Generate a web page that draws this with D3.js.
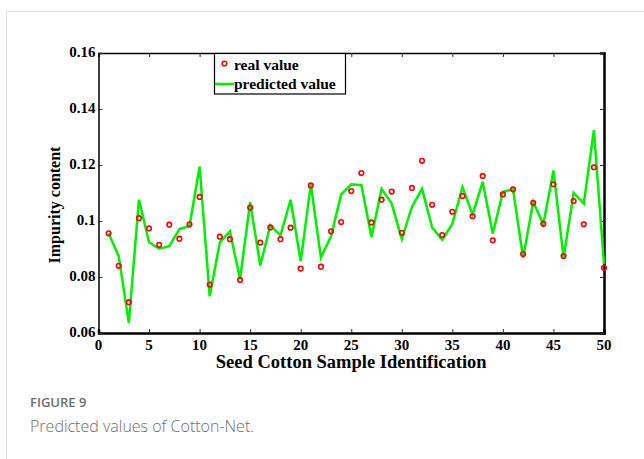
<!DOCTYPE html>
<html>
<head>
<meta charset="utf-8">
<script src="https://cdn.jsdelivr.net/npm/d3@7"></script>
<style>
  body { margin: 0; background: #fff; }
  .serif { font-family: "Liberation Serif", "Times New Roman", serif; font-weight: bold; }
  .caption { font-family: "Open Sans", sans-serif; fill: #6e6e6e; }
</style>
</head>
<body>
<svg id="chart" width="644" height="459"></svg>
<script>
// sample ids 1..50
const samples = d3.range(1, 51);

const realValues = [
  0.0956, 0.0840, 0.0710, 0.1010, 0.0974, 0.0915, 0.0987, 0.0937, 0.0988, 0.1086,
  0.0773, 0.0944, 0.0935, 0.0789, 0.1048, 0.0923, 0.0977, 0.0935, 0.0976, 0.0830,
  0.1127, 0.0837, 0.0963, 0.0996, 0.1107, 0.1171, 0.0995, 0.1076, 0.1105, 0.0958,
  0.1118, 0.1215, 0.1058, 0.0950, 0.1033, 0.1089, 0.1017, 0.1161, 0.0931, 0.1095,
  0.1113, 0.0882, 0.1065, 0.0990, 0.1131, 0.0875, 0.1071, 0.0988, 0.1192, 0.0833
];

const predictedValues = [
  0.0956, 0.0874, 0.0636, 0.1076, 0.0924, 0.0901, 0.0910, 0.0971, 0.0982, 0.1194,
  0.0731, 0.0924, 0.0963, 0.0792, 0.1067, 0.0841, 0.0985, 0.0949, 0.1076, 0.0856,
  0.1131, 0.0869, 0.0945, 0.1095, 0.1131, 0.1128, 0.0943, 0.1115, 0.1062, 0.0935,
  0.1050, 0.1115, 0.0977, 0.0933, 0.0990, 0.1121, 0.1023, 0.1140, 0.0955, 0.1104,
  0.1113, 0.0869, 0.1068, 0.0988, 0.1180, 0.0869, 0.1100, 0.1062, 0.1325, 0.0847
];

const xTicks = [0, 5, 10, 15, 20, 25, 30, 35, 40, 45, 50];
const yTicks = [0.06, 0.08, 0.1, 0.12, 0.14, 0.16];
const yTickLabels = ["0.06", "0.08", "0.1", "0.12", "0.14", "0.16"];

const svg = d3.select("#chart");

// card outline
svg.append("path")
  .attr("d", "M6.5,459 V11.5 H644")
  .attr("fill", "none")
  .attr("stroke", "#dcdcdc")
  .attr("stroke-width", 1);

const margin = { top: 53, left: 98.5 };
const width = 604 - margin.left;
const height = 333 - margin.top;

const x = d3.scaleLinear().domain([0, 50]).range([margin.left, margin.left + width]);
const y = d3.scaleLinear().domain([0.06, 0.16]).range([margin.top + height, margin.top]);

// axes with inward ticks
const tickLen = 4;
const bottomAxis = svg.append("g")
  .attr("transform", `translate(0, ${y(0.06)})`)
  .call(d3.axisTop(x).tickValues(xTicks).tickSize(tickLen).tickFormat(""));
const topAxis = svg.append("g")
  .attr("transform", `translate(0, ${y(0.16)})`)
  .call(d3.axisBottom(x).tickValues(xTicks).tickSize(tickLen).tickFormat(""));
const leftAxis = svg.append("g")
  .attr("transform", `translate(${x(0)}, 0)`)
  .call(d3.axisRight(y).tickValues(yTicks).tickSize(tickLen).tickFormat(""));
const rightAxis = svg.append("g")
  .attr("transform", `translate(${x(50)}, 0)`)
  .call(d3.axisLeft(y).tickValues(yTicks).tickSize(tickLen).tickFormat(""));

[bottomAxis, topAxis, leftAxis, rightAxis].forEach((g) => {
  g.select(".domain").attr("stroke", "#000").attr("stroke-width", 1.5);
  g.selectAll(".tick line").attr("stroke", "#333").attr("stroke-width", 1);
});
bottomAxis.select(".domain").attr("stroke-width", 2.5);
rightAxis.select(".domain").attr("stroke-width", 2.5);

// tick labels
svg.append("g").selectAll("text")
  .data(xTicks)
  .join("text")
  .attr("class", "serif")
  .attr("x", (d) => x(d))
  .attr("y", y(0.06) + 17)
  .attr("text-anchor", "middle")
  .attr("font-size", 15)
  .text((d) => d);

svg.append("g").selectAll("text")
  .data(yTicks)
  .join("text")
  .attr("class", "serif")
  .attr("x", x(0) - 3)
  .attr("y", (d) => y(d) + 4)
  .attr("text-anchor", "end")
  .attr("font-size", 15)
  .text((d, i) => yTickLabels[i]);

// axis titles
svg.append("text")
  .attr("class", "serif")
  .attr("x", (x(0) + x(50)) / 2)
  .attr("y", 368)
  .attr("text-anchor", "middle")
  .attr("font-size", 18.5)
  .text("Seed Cotton Sample Identification");

svg.append("text")
  .attr("class", "serif")
  .attr("transform", "translate(60, 205) rotate(-90)")
  .attr("text-anchor", "middle")
  .attr("font-size", 16)
  .text("Impurity content");

// predicted line
const line = d3.line()
  .x((d, i) => x(samples[i]))
  .y((d) => y(d));

svg.append("path")
  .datum(predictedValues)
  .attr("fill", "none")
  .attr("stroke", "#00ee00")
  .attr("stroke-width", 2.5)
  .attr("d", line);

// real value markers
svg.append("g").selectAll("circle")
  .data(realValues)
  .join("circle")
  .attr("cx", (d, i) => x(samples[i]))
  .attr("cy", (d) => y(d))
  .attr("r", 2.3)
  .attr("fill", "none")
  .attr("stroke", "#ff0000")
  .attr("stroke-width", 1.6);

// legend
const legend = svg.append("g");
legend.append("rect")
  .attr("x", 214.5)
  .attr("y", 53.5)
  .attr("width", 131)
  .attr("height", 40.5)
  .attr("fill", "#fff")
  .attr("stroke", "#000")
  .attr("stroke-width", 1.2);
legend.append("circle")
  .attr("cx", 224.5).attr("cy", 63.5).attr("r", 2.3)
  .attr("fill", "none").attr("stroke", "#ff0000").attr("stroke-width", 1.6);
legend.append("text")
  .attr("class", "serif")
  .attr("x", 234).attr("y", 70)
  .attr("font-size", 15.5)
  .text("real value");
legend.append("line")
  .attr("x1", 215).attr("x2", 234).attr("y1", 84).attr("y2", 84)
  .attr("stroke", "#00ee00").attr("stroke-width", 2.5);
legend.append("text")
  .attr("class", "serif")
  .attr("x", 234).attr("y", 88.5)
  .attr("font-size", 15.5)
  .text("predicted value");

// caption
svg.append("text")
  .attr("class", "caption")
  .attr("x", 30).attr("y", 407)
  .attr("font-size", 13)
  .attr("font-weight", 600)
  .text("FIGURE 9");
svg.append("text")
  .attr("class", "caption")
  .attr("x", 30).attr("y", 432)
  .attr("font-size", 16)
  .attr("font-weight", 300)
  .text("Predicted values of Cotton-Net.");
</script>
</body>
</html>
